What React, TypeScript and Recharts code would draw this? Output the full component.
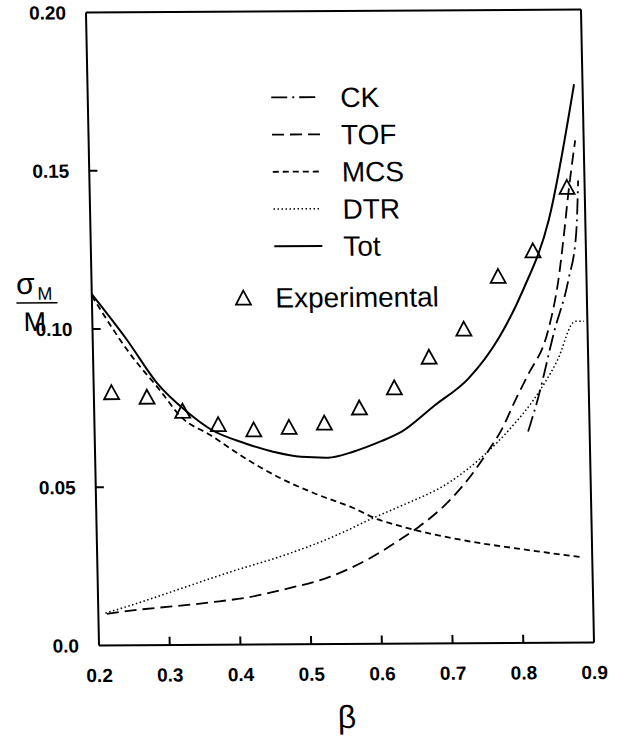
import React from "react";
import { ComposedChart, Line, Scatter, XAxis, YAxis } from "recharts";

// axis ticks
const betaTicks = [0.2, 0.3, 0.4, 0.5, 0.6, 0.7, 0.8, 0.9];
const sigmaTicks = [0, 0.05, 0.1, 0.15, 0.2];

// CK (Cherenkov)
const betaCk = [0.813, 0.828, 0.853, 0.874, 0.887, 0.891];
const sigmaCk = [0.0668, 0.0773, 0.0985, 0.1143, 0.13, 0.146];

// TOF
const betaTof = [0.212, 0.24, 0.359, 0.414, 0.468, 0.529, 0.582, 0.629, 0.654, 0.702, 0.731, 0.755, 0.775, 0.797, 0.814, 0.844, 0.86, 0.87, 0.876, 0.888];
const sigmaTof = [0.01, 0.0108, 0.0134, 0.015, 0.0176, 0.0213, 0.0266, 0.0329, 0.0366, 0.0456, 0.053, 0.0604, 0.0672, 0.0772, 0.0845, 0.0985, 0.1143, 0.13, 0.1406, 0.1587];

// MCS
const betaMcs = [0.2, 0.252, 0.294, 0.322, 0.364, 0.41, 0.458, 0.514, 0.562, 0.598, 0.63, 0.724, 0.795, 0.887];
const sigmaMcs = [0.1105, 0.0922, 0.0804, 0.0722, 0.0662, 0.0592, 0.0529, 0.0472, 0.0431, 0.0393, 0.0371, 0.0323, 0.0298, 0.0269];

// DTR
const betaDtr = [0.21, 0.263, 0.297, 0.391, 0.468, 0.534, 0.596, 0.63, 0.701, 0.749, 0.788, 0.821, 0.856, 0.883, 0.895];
const sigmaDtr = [0.0102, 0.0138, 0.0163, 0.0232, 0.0284, 0.0339, 0.0402, 0.0434, 0.051, 0.0592, 0.0678, 0.0766, 0.089, 0.1015, 0.1015];

// Tot
const betaTot = [0.2, 0.249, 0.29, 0.332, 0.364, 0.411, 0.453, 0.491, 0.529, 0.566, 0.605, 0.633, 0.681, 0.73, 0.774, 0.81, 0.848, 0.888];
const sigmaTot = [0.111, 0.0963, 0.0827, 0.0735, 0.0681, 0.0637, 0.0608, 0.0592, 0.0589, 0.0608, 0.064, 0.0668, 0.0751, 0.0836, 0.0963, 0.1115, 0.1333, 0.1764];

// experimental points
const betaExp = [0.225, 0.275, 0.325, 0.375, 0.425, 0.475, 0.525, 0.575, 0.625, 0.675, 0.725, 0.775, 0.825, 0.875];
const sigmaExp = [0.08, 0.0785, 0.074, 0.0697, 0.068, 0.0687, 0.07, 0.0747, 0.081, 0.0906, 0.0994, 0.116, 0.124, 0.144];

const toPoints = (xs: number[], ys: number[]) => xs.map((b, i) => ({ beta: b, sigma: ys[i] }));

const FONT = '"Liberation Sans", Arial, Helvetica, sans-serif';

const curves = [
  { name: "CK", data: toPoints(betaCk, sigmaCk), dash: "16 5 2 5", width: 1.8 },
  { name: "TOF", data: toPoints(betaTof, sigmaTof), dash: "12 6", width: 1.8 },
  { name: "MCS", data: toPoints(betaMcs, sigmaMcs), dash: "6 4", width: 1.8 },
  { name: "DTR", data: toPoints(betaDtr, sigmaDtr), dash: "1.5 2.5", width: 1.5 },
  { name: "Tot", data: toPoints(betaTot, sigmaTot), dash: undefined, width: 2 },
];

const expData = toPoints(betaExp, sigmaExp);

// inner tick marks on bottom/left (about 8px long), one short segment per tick value
const TICK_B = 0.0115;
const TICK_S = 0.0026;
const innerBeta = betaTicks.slice(1, -1);
const innerSigma = sigmaTicks.slice(1, -1);
const tickSegments = [
  ...innerBeta.map((b) => [{ beta: b, sigma: 0 }, { beta: b, sigma: TICK_S }]),
  ...innerSigma.map((s) => [{ beta: 0.2, sigma: s }, { beta: 0.2 + TICK_B, sigma: s }]),
];

function Triangle(props: any) {
  const { cx, cy } = props;
  if (cx == null || cy == null) return null;
  return (
    <path
      d={`M${cx},${cy - 7} L${cx + 7.5},${cy + 7} L${cx - 7.5},${cy + 7} Z`}
      fill="none"
      stroke="#000"
      strokeWidth={1.8}
      strokeLinejoin="miter"
    />
  );
}

const axisLine = { stroke: "#000", strokeWidth: 2 };
const tickLine = { stroke: "#000", strokeWidth: 2 };
const tickText = { fill: "#000", fontSize: 19, fontWeight: "bold", fontFamily: FONT };
const fmtSigma = (v: number) => (v === 0 ? "0.0" : v.toFixed(2));

export default function App() {
  return (
    <div
      style={{
        position: "absolute",
        left: 0,
        top: 0,
        width: 622,
        height: 747,
        background: "#fff",
        fontFamily: FONT,
        transform: "rotate(-0.35deg) skewX(0.83deg)",
        transformOrigin: "339.5px 328px",
      }}
    >
      <ComposedChart width={622} height={747} margin={{ top: 11, right: 34.5, bottom: 63, left: 32.5 }}>
        <XAxis
          xAxisId="b"
          type="number"
          dataKey="beta"
          domain={[0.2, 0.9]}
          ticks={betaTicks}
          interval={0}
          allowDataOverflow
          height={40}
          tickSize={0}
          tickMargin={23}
          axisLine={axisLine}
          tickLine={false}
          tick={tickText}
          tickFormatter={(v: number) => v.toFixed(1)}
        />
        <XAxis
          xAxisId="top"
          orientation="top"
          mirror
          type="number"
          dataKey="beta"
          domain={[0.2, 0.9]}
          ticks={innerBeta}
          interval={0}
          allowDataOverflow
          height={1}
          tickSize={8}
          axisLine={axisLine}
          tickLine={tickLine}
          tick={false}
        />
        <YAxis
          yAxisId="s"
          type="number"
          domain={[0, 0.2]}
          ticks={sigmaTicks}
          interval={0}
          allowDataOverflow
          width={60}
          tickSize={0}
          tickMargin={20}
          axisLine={axisLine}
          tickLine={false}
          tick={tickText}
          tickFormatter={fmtSigma}
        />
        <YAxis
          yAxisId="right"
          orientation="right"
          mirror
          type="number"
          domain={[0, 0.2]}
          ticks={innerSigma}
          interval={0}
          allowDataOverflow
          width={1}
          tickSize={8}
          axisLine={axisLine}
          tickLine={tickLine}
          tick={false}
        />

        {tickSegments.map((seg, i) => (
          <Line
            key={`tick${i}`}
            xAxisId="b"
            yAxisId="s"
            data={seg}
            dataKey="sigma"
            type="linear"
            stroke="#000"
            strokeWidth={2}
            dot={false}
            activeDot={false}
            legendType="none"
            isAnimationActive={false}
          />
        ))}

        {curves.map((c) => (
          <Line
            key={c.name}
            xAxisId="b"
            yAxisId="s"
            data={c.data}
            dataKey="sigma"
            type="monotone"
            stroke="#000"
            strokeWidth={c.width}
            strokeDasharray={c.dash}
            dot={false}
            activeDot={false}
            isAnimationActive={false}
          />
        ))}
        <Scatter
          xAxisId="b"
          yAxisId="s"
          data={expData}
          dataKey="sigma"
          shape={<Triangle />}
          isAnimationActive={false}
        />
      </ComposedChart>

      <svg
        width={622}
        height={747}
        style={{ position: "absolute", left: 0, top: 0, pointerEvents: "none" }}
      >
        {curves.map((c, i) => {
          const y = 97 + i * 37.2;
          return (
            <g key={c.name}>
              <line x1={276} x2={324} y1={y} y2={y} stroke="#000" strokeWidth={c.width} strokeDasharray={c.dash} />
              <text x={345} y={y} dy="0.36em" fontSize={28} fontFamily={FONT} fill="#000">
                {c.name}
              </text>
            </g>
          );
        })}
        <Triangle cx={244} cy={297} />
        <text x={276} y={297} dy="0.36em" fontSize={28} fontFamily={FONT} fill="#000">
          Experimental
        </text>

        {/* y label: sigma_M / M */}
        <text x={17} y={292} fontSize={30} fontFamily={FONT} fill="#000">σ</text>
        <text x={38} y={298} fontSize={18} fontFamily={FONT} fill="#000">M</text>
        <line x1={17} x2={58} y1={301} y2={301} stroke="#000" strokeWidth={1.5} />
        <text x={35} y={329} textAnchor="middle" fontSize={27} fontFamily={FONT} fill="#000">M</text>

        <text x={339} y={728} textAnchor="middle" fontSize={32} fontFamily={FONT} fill="#000">β</text>
      </svg>
    </div>
  );
}
